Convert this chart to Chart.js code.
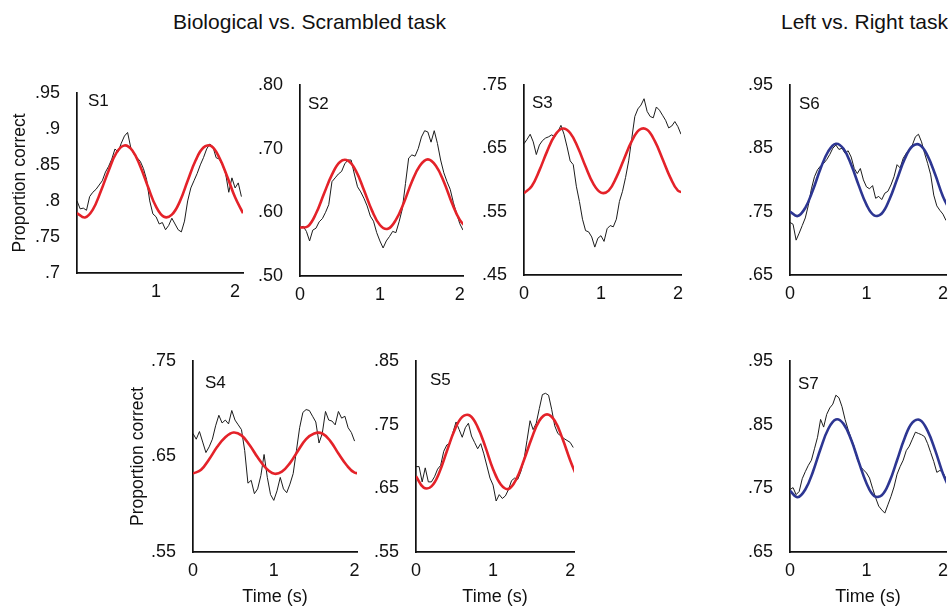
<!DOCTYPE html>
<html>
<head>
<meta charset="utf-8">
<script src="https://cdn.jsdelivr.net/npm/chart.js@4.4.0/dist/chart.umd.min.js"></script>
<style>
  body { margin: 0; width: 948px; height: 608px; overflow: hidden; background: #fff; position: relative;
         font-family: "Liberation Sans", Arial, Helvetica, sans-serif; }
  canvas { position: absolute; }
  .head { position: absolute; font-size: 21px; line-height: 24px; color: #111; white-space: nowrap; }
</style>
</head>
<body>
<div class="head" style="left:173px;top:10px">Biological vs. Scrambled task</div>
<div class="head" style="left:781px;top:10px">Left vs. Right task</div>
<script>
// time base of the raw traces (s) and of the sinusoid fits (s)
const rawTimes = [0, 0.04, 0.08, 0.12, 0.16, 0.2, 0.24, 0.28, 0.32, 0.36, 0.4, 0.44, 0.48, 0.52, 0.56, 0.6, 0.64, 0.68, 0.72, 0.76,
  0.8, 0.84, 0.88, 0.92, 0.96, 1, 1.04, 1.08, 1.12, 1.16, 1.2, 1.24, 1.28, 1.32, 1.36, 1.4, 1.44, 1.48, 1.52, 1.56,
  1.6, 1.64, 1.68, 1.72, 1.76, 1.8, 1.84, 1.88, 1.92, 1.96, 2, 2.04, 2.08];
const fitTimes = [0, 0.1, 0.2, 0.3, 0.4, 0.5, 0.6, 0.7, 0.8, 0.9, 1, 1.1, 1.2, 1.3, 1.4, 1.5, 1.6, 1.7, 1.8, 1.9, 2, 2.1];

// proportion correct, raw
const s1Raw = [.800, .789, .790, .787, .806, .812, .816, .822, .828, .840, .848, .858, .872, .868, .880, .890, .895, .874, .865, .860,
  .855, .845, .830, .800, .782, .778, .768, .770, .760, .766, .776, .768, .760, .757, .772, .800, .818, .828, .838, .850,
  .860, .872, .879, .875, .860, .858, .850, .838, .812, .832, .818, .825, .806];
const s2Raw = [.576, .578, .570, .555, .572, .575, .585, .590, .600, .612, .648, .654, .660, .664, .676, .682, .682, .660, .640, .632,
  .622, .610, .594, .586, .568, .555, .544, .555, .562, .570, .568, .585, .605, .645, .685, .690, .688, .700, .718, .728,
  .726, .710, .728, .708, .682, .662, .648, .636, .615, .598, .582, .572];
const s3Raw = [.657, .664, .672, .660, .640, .655, .662, .666, .668, .671, .668, .676, .686, .672, .652, .630, .624, .590, .566, .538,
  .520, .518, .510, .494, .508, .512, .503, .523, .528, .526, .538, .566, .582, .604, .630, .665, .700, .712, .718, .728,
  .708, .700, .698, .715, .710, .702, .694, .682, .685, .692, .684, .672];
const s4Raw = [.674, .668, .676, .665, .654, .660, .668, .682, .693, .685, .688, .684, .698, .688, .683, .678, .656, .622, .625, .611,
  .616, .630, .652, .628, .610, .604, .614, .628, .616, .612, .621, .632, .656, .680, .696, .699, .698, .692, .686, .664,
  .674, .697, .688, .687, .683, .697, .690, .692, .680, .675, .666];
const s5Raw = [.684, .684, .660, .682, .660, .660, .668, .680, .686, .708, .718, .720, .738, .754, .742, .730, .745, .752, .732, .722,
  .712, .720, .704, .685, .666, .655, .630, .640, .634, .638, .648, .662, .666, .664, .676, .694, .725, .756, .742, .752,
  .775, .797, .799, .796, .774, .748, .736, .732, .728, .725, .722, .714];
const s6Raw = [.733, .730, .705, .716, .728, .740, .760, .786, .805, .816, .822, .826, .832, .840, .850, .855, .848, .850, .842, .846,
  .836, .818, .810, .818, .800, .789, .786, .791, .771, .774, .769, .779, .782, .792, .805, .824, .819, .834, .842, .848,
  .855, .868, .872, .860, .842, .826, .808, .776, .759, .752, .746, .736];
const s7Raw = [.748, .751, .740, .745, .765, .776, .786, .794, .812, .830, .858, .846, .866, .876, .882, .896, .892, .878, .858, .842,
  .828, .815, .796, .784, .779, .774, .766, .750, .735, .722, .716, .711, .724, .737, .752, .772, .784, .794, .809, .816,
  .827, .838, .836, .834, .831, .820, .806, .792, .775, .778, .775, .765];

// sinusoid fits
const s1Fit = [.783, .777, .788, .813, .842, .867, .877, .870, .848, .819, .792, .778, .781, .799, .828, .856, .874, .876, .860, .834, .805, .783];
const s2Fit = [.576, .578, .598, .629, .659, .679, .681, .665, .635, .603, .580, .574, .588, .615, .648, .673, .683, .673, .648, .615, .588, .574];
const s3Fit = [.579, .590, .615, .645, .670, .681, .674, .651, .621, .594, .580, .583, .604, .633, .661, .679, .679, .661, .633, .604, .583, .580];
const s4Fit = [.632, .636, .647, .660, .670, .675, .672, .662, .649, .638, .632, .634, .643, .656, .668, .674, .674, .666, .653, .641, .633, .633];
const s5Fit = [.669, .651, .653, .674, .708, .741, .762, .764, .746, .715, .680, .656, .649, .664, .694, .728, .756, .766, .756, .728, .694, .664];
const s6Fit = [.750, .743, .756, .784, .818, .845, .857, .849, .824, .791, .761, .744, .747, .769, .801, .833, .853, .855, .838, .808, .774, .750];
const s7Fit = [.746, .736, .748, .776, .812, .843, .858, .851, .826, .791, .758, .738, .739, .760, .794, .829, .853, .857, .840, .809, .773, .746];

const RED = '#e42229';
const BLUE = '#2d3692';
const FONT = '"Liberation Sans", Arial, Helvetica, sans-serif';

const shortDec = v => String(+v.toFixed(2)).replace(/^0/, '');
const twoDec = v => v.toFixed(2).replace(/^0/, '');

// left/top/right/bottom = plot area in page pixels
const panels = [
  { name: 'S1', raw: s1Raw, fit: s1Fit, color: RED, left: 77, top: 85, right: 243, bottom: 273, xMax: 2.1,
    yMin: .7, yMax: .95, yStep: .05, fmt: shortDec, noZero: true, yTitle: 10, lab: [11, 9] },
  { name: 'S2', raw: s2Raw, fit: s2Fit, color: RED, left: 300, top: 77, right: 463, bottom: 276, xMax: 2.04,
    yMin: .5, yMax: .8, yStep: .1, fmt: twoDec, lab: [8, 20] },
  { name: 'S3', raw: s3Raw, fit: s3Fit, color: RED, left: 524, top: 77, right: 681, bottom: 275, xMax: 2.04,
    yMin: .45, yMax: .75, yStep: .1, fmt: twoDec, lab: [8, 19] },
  { name: 'S6', raw: s6Raw, fit: s6Fit, color: BLUE, left: 790, top: 77, right: 946, bottom: 275, xMax: 2.04,
    yMin: .65, yMax: .95, yStep: .1, fmt: twoDec, lab: [9, 20] },
  { name: 'S4', raw: s4Raw, fit: s4Fit, color: RED, left: 193, top: 353, right: 357, bottom: 552, xMax: 2.03,
    yMin: .55, yMax: .75, yStep: .1, fmt: twoDec, yTitle: 12, xTitle: true, lab: [12, 23] },
  { name: 'S5', raw: s5Raw, fit: s5Fit, color: RED, left: 416, top: 353, right: 574, bottom: 552, xMax: 2.05,
    yMin: .55, yMax: .85, yStep: .1, fmt: twoDec, xTitle: true, lab: [14, 20] },
  { name: 'S7', raw: s7Raw, fit: s7Fit, color: BLUE, left: 790, top: 353, right: 946, bottom: 552, xMax: 2.04,
    yMin: .65, yMax: .95, yStep: .1, fmt: twoDec, xTitle: true, lab: [8, 24] }
];

// subject label in the upper left of each plot
const panelLabel = {
  id: 'panelLabel',
  afterDraw(chart, args, opts) {
    const { ctx, chartArea } = chart;
    ctx.save();
    ctx.font = '17px ' + FONT;
    ctx.fillStyle = '#111';
    ctx.textBaseline = 'middle';
    ctx.fillText(opts.text, chartArea.left + opts.dx, chartArea.top + opts.dy);
    ctx.restore();
  }
};

panels.forEach(p => {
  const yW = p.yTitle !== undefined ? 77 : 50;
  const xH = p.xTitle ? 58 : 30;
  const padTop = 12, padRight = 6;
  const cv = document.createElement('canvas');
  cv.width = yW + (p.right - p.left) + padRight;
  cv.height = padTop + (p.bottom - p.top) + xH;
  cv.style.left = (p.left - yW) + 'px';
  cv.style.top = (p.top - padTop) + 'px';
  document.body.appendChild(cv);

  new Chart(cv, {
    type: 'line',
    data: {
      datasets: [
        {
          data: fitTimes.map((t, i) => ({ x: t, y: p.fit[i] })),
          borderColor: p.color,
          borderWidth: 2.6,
          pointRadius: 0,
          tension: 0.4
        },
        {
          data: p.raw.map((v, i) => ({ x: rawTimes[i], y: v })),
          borderColor: '#1c1c1c',
          borderWidth: 1,
          pointRadius: 0,
          tension: 0
        }
      ]
    },
    options: {
      responsive: false,
      animation: false,
      events: [],
      layout: { padding: { left: 0, top: padTop, right: padRight, bottom: 0 } },
      plugins: {
        legend: { display: false },
        tooltip: { enabled: false },
        panelLabel: { text: p.name, dx: p.lab[0], dy: p.lab[1] }
      },
      scales: {
        x: {
          type: 'linear',
          min: 0,
          max: p.xMax,
          grid: { display: false },
          border: { display: true, color: '#111', width: 1.7 },
          ticks: {
            stepSize: 1,
            includeBounds: false,
            maxRotation: 0,
            padding: 0,
            color: '#111',
            font: { family: FONT, size: 18 },
            callback: v => (p.noZero && v === 0) ? '' : String(v)
          },
          title: {
            display: !!p.xTitle,
            text: 'Time (s)',
            color: '#111',
            font: { family: FONT, size: 18 },
            padding: { top: 0, bottom: 2 }
          },
          afterFit: s => { s.height = xH; }
        },
        y: {
          min: p.yMin,
          max: p.yMax,
          grid: { display: false },
          border: { display: true, color: '#111', width: 1.7 },
          ticks: {
            stepSize: p.yStep,
            precision: 2,
            padding: 9,
            color: '#111',
            font: { family: FONT, size: 18 },
            callback: v => p.fmt(v)
          },
          title: {
            display: p.yTitle !== undefined,
            text: 'Proportion correct',
            color: '#111',
            font: { family: FONT, size: 17.5 },
            padding: { top: p.yTitle || 0, bottom: 0 }
          },
          afterFit: s => { s.width = yW; }
        }
      }
    },
    plugins: [panelLabel]
  });
});
</script>
</body>
</html>
